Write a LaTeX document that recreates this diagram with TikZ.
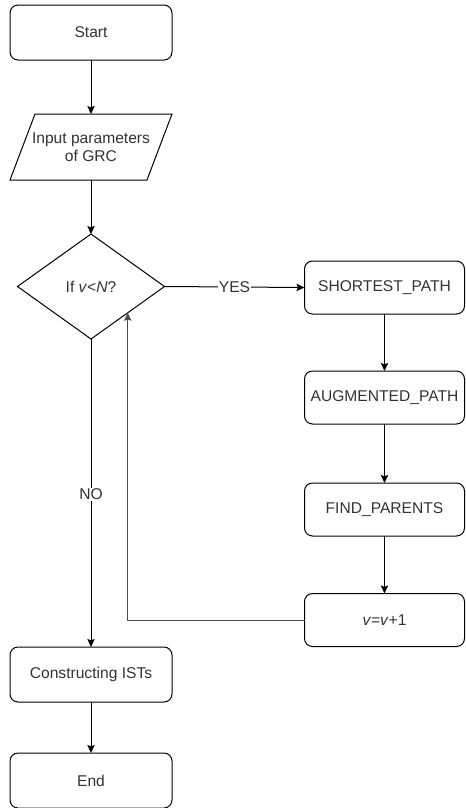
\documentclass[tikz,border=0pt]{standalone}
\usepackage{fontspec}
\setmainfont{Liberation Sans}
\usetikzlibrary{shapes.geometric,arrows.meta,calc}
\begin{document}
\begin{tikzpicture}[x=0.75pt,y=-0.75pt,
  every node/.style={font=\fontsize{11.7}{13.5}\selectfont, text=black!80, inner sep=0pt, outer sep=0pt},
  box/.style={draw, line width=0.75pt, rounded corners=6pt, minimum width=120pt, minimum height=39.75pt, align=center},
  termbox/.style={box, minimum width=121.5pt, minimum height=41.25pt},
  iobox/.style={minimum width=121.5pt, minimum height=49.5pt, align=center},
  decbox/.style={draw, line width=0.75pt, diamond, minimum width=110.25pt, minimum height=78.75pt},
  edge/.style={line width=0.75pt},
  arr/.style={line width=0.75pt, -{Stealth[length=6pt,width=5.5pt,inset=1pt]}},
  lbl/.style={fill=white, inner sep=1pt}]
\useasboundingbox (0,0) rectangle (465,808);
\node[termbox] (start) at (91,32.5) {Start};
\node[iobox] (input) at (91,147) {Input parameters\\of GRC};
\draw[edge] ($(input.north west)+(25,0)$) -- (input.north east) -- ($(input.south east)-(25,0)$) -- (input.south west) -- cycle;
\node[decbox] (dec) at (91,286.5) {If \textit{v}<\textit{N}?};
\node[box] (sp) at (384.5,287.5) {SHORTEST\_PATH};
\node[box] (ap) at (384.5,397.5) {AUGMENTED\_PATH};
\node[box] (fp) at (384.5,509.5) {FIND\_PARENTS};
\node[box] (inc) at (384.5,620) {\textit{v}=\textit{v}+1};
\node[termbox] (cons) at (91,674.5) {Constructing ISTs};
\node[termbox] (fin) at (91,780.5) {End};
\coordinate (back) at ($(dec.south)!0.5!(dec.east)$);
\draw[arr] (start) -- (input);
\draw[arr] (input) -- (dec);
\draw[arr] (dec.east) -- node[lbl] {YES} (sp.west);
\draw[arr] (sp) -- (ap);
\draw[arr] (ap) -- (fp);
\draw[arr] (fp) -- (inc);
\draw[arr, draw=black!70] (inc.west) -| (back);
\draw[arr] (dec.south) -- node[lbl, pos=0.505] {NO} (cons.north);
\draw[arr] (cons) -- (fin);
\end{tikzpicture}
\end{document}
